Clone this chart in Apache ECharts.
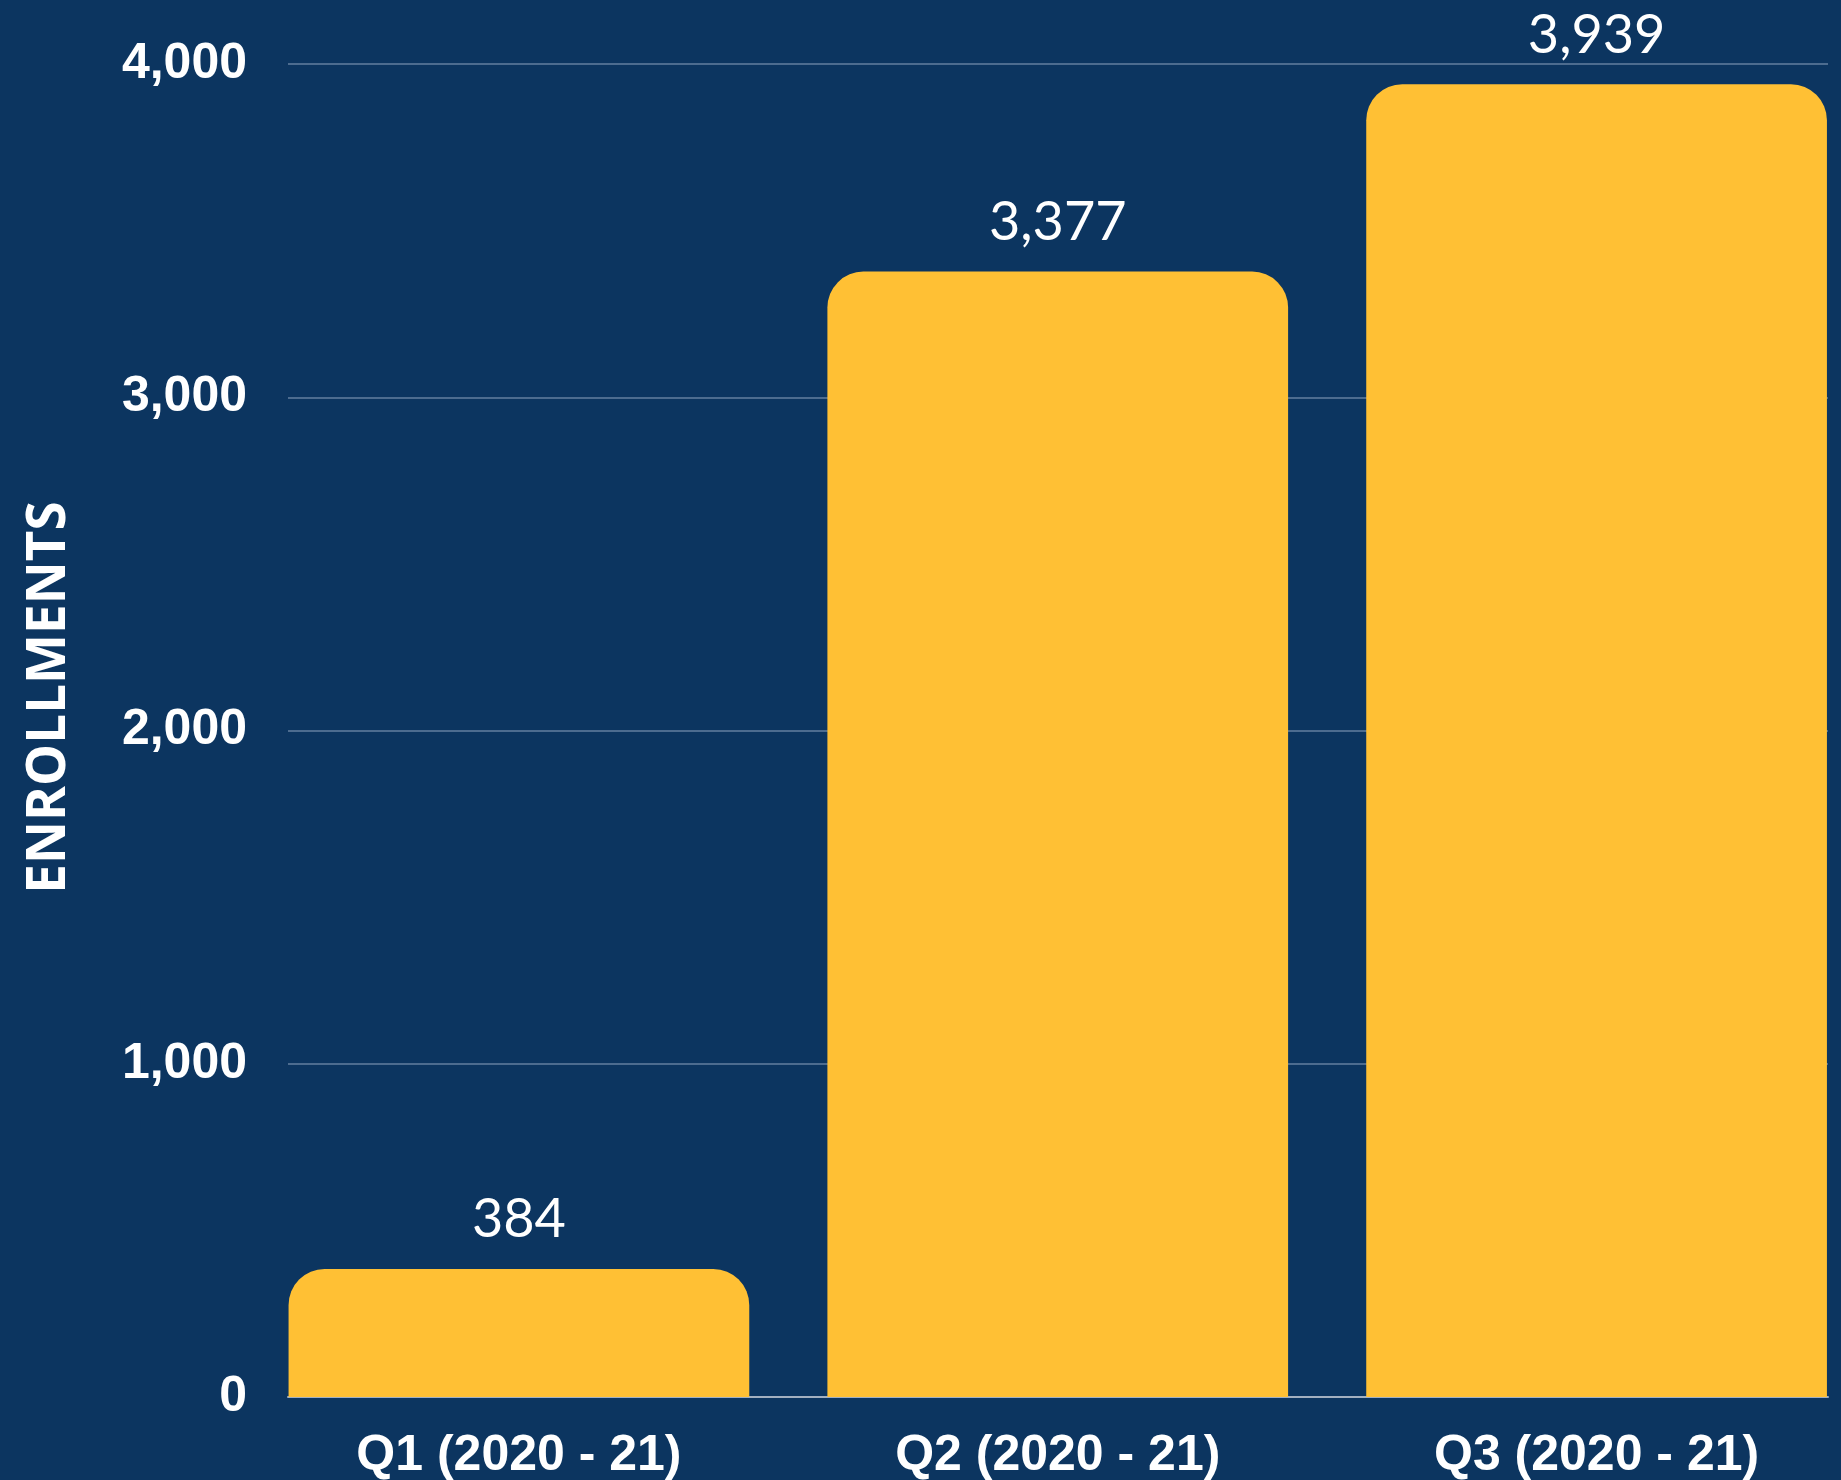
<!DOCTYPE html>
<html>
<head>
<meta charset="utf-8">
<script src="https://cdn.jsdelivr.net/npm/echarts@6/dist/echarts.min.js"></script>
<style>
  html, body { margin: 0; padding: 0; background: #0c3560; }
  #chart { width: 1841px; height: 1480px; }
</style>
</head>
<body>
<div id="chart"></div>
<script>
"use strict";

var quarters = ['Q1 (2020 - 21)', 'Q2 (2020 - 21)', 'Q3 (2020 - 21)'];
var enrollments = [384, 3377, 3939];
var yTicks = [0, 1000, 2000, 3000, 4000];

var chart = echarts.init(document.getElementById('chart'));

function fmt(v) {
    return Number(v).toLocaleString('en-US');
}

var option = {
    backgroundColor: '#0c3560',
    animation: false,
    grid: [
        // grid for gridlines, y axis and base line
        { left: 288, right: 13, top: 64, bottom: 83, outerBoundsMode: 'none', containLabel: false },
        // wider grid so the outer bars meet the axis ends
        { left: 249.5, right: -25, top: 64, bottom: 83, outerBoundsMode: 'none', containLabel: false }
    ],
    xAxis: [{
        gridIndex: 0,
        type: 'value',
        min: 0,
        max: 1,
        axisLine: { show: true, onZero: false, lineStyle: { color: '#a3b0c0', width: 2 } },
        axisTick: { show: false },
        axisLabel: { show: false },
        splitLine: { show: false }
    }, {
        gridIndex: 1,
        type: 'category',
        data: quarters,
        axisLine: { show: false },
        axisTick: { show: false },
        axisLabel: {
            color: '#ffffff',
            fontFamily: 'Liberation Sans, Arial, sans-serif',
            fontWeight: 'bold',
            fontSize: 50,
            margin: 34
        }
    }],
    yAxis: [{
        gridIndex: 0,
        type: 'value',
        min: yTicks[0],
        max: yTicks[yTicks.length - 1],
        interval: 1000,
        name: 'ENROLLMENTS',
        nameLocation: 'middle',
        nameGap: 212,
        nameRotate: 90,
        nameTextStyle: {
            color: '#ffffff',
            fontFamily: 'Open Sans, sans-serif',
            fontWeight: 'bold',
            fontSize: 53,
            padding: [0, 0, 0, 66]
        },
        axisLine: { show: false },
        axisTick: { show: false },
        axisLabel: {
            color: '#ffffff',
            fontFamily: 'Liberation Sans, Arial, sans-serif',
            fontWeight: 'bold',
            fontSize: 50,
            margin: 41,
            formatter: fmt
        },
        splitLine: { show: true, lineStyle: { color: '#4d6c8f', width: 2 } }
    }, {
        gridIndex: 1,
        type: 'value',
        min: yTicks[0],
        max: yTicks[yTicks.length - 1],
        show: false,
        splitLine: { show: false }
    }],
    series: [{
        name: 'Enrollments',
        type: 'bar',
        xAxisIndex: 1,
        yAxisIndex: 1,
        data: enrollments,
        barCategoryGap: '14.5%',
        itemStyle: {
            color: '#ffc034',
            borderRadius: [36, 36, 0, 0]
        },
        label: {
            show: true,
            position: 'top',
            distance: 22,
            color: '#ffffff',
            fontFamily: 'Lato, sans-serif',
            fontSize: 54,
            formatter: function(p) { return fmt(p.value); }
        }
    }]
};

chart.setOption(option);
</script>
</body>
</html>
